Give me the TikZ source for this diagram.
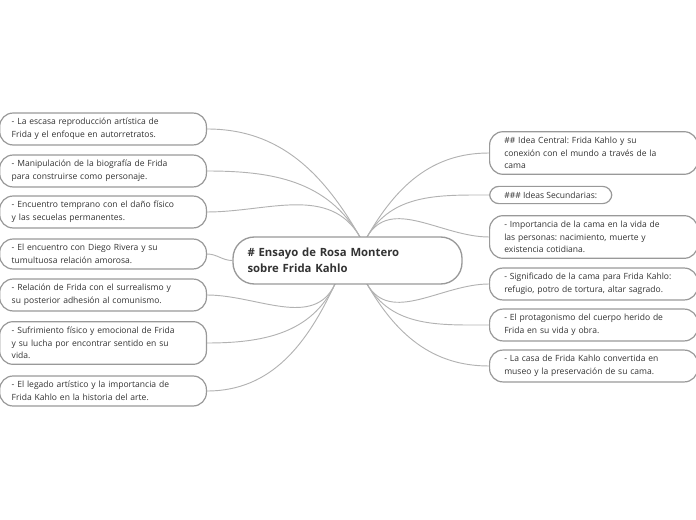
\documentclass[tikz,border=0pt]{standalone}
\usepackage{fontspec}
\setmainfont{Open Sans}
\usetikzlibrary{backgrounds}
\frenchspacing
\begin{document}
\begin{tikzpicture}[x=0.75pt,y=-0.75pt,
  topic/.style={draw=gray!80,line width=0.9pt,rounded corners=10pt,fill=white,
    font=\fontsize{6.4}{9.5}\selectfont,text=black!80,align=left,
    inner ysep=4pt},
  ltopic/.style={topic,anchor=east,text width=137pt,inner xsep=9pt},
  rtopic/.style={topic,anchor=west,text width=134pt,inner xsep=11pt},
  link/.style={draw=gray!60,line width=0.7pt}]

\useasboundingbox (0,0) rectangle (696,520);

\node[draw=gray!80,line width=1pt,rounded corners=16pt,minimum width=229*0.75pt,
  minimum height=47*0.75pt,text width=150pt,align=left,fill=white,
  font=\fontsize{8.5}{12}\selectfont\bfseries,text=black!80] (central) at (347.5,260.5)
  {\# Ensayo de Rosa Montero\\sobre Frida Kahlo};

\coordinate (ctl) at (360,237);
\coordinate (cbl) at (335,284);
\coordinate (ctr) at (367,237);
\coordinate (cbr) at (367,284);

% left side
\node[ltopic] (l1) at (207,129) {- La escasa reproducción artística de\\Frida y el enfoque en autorretratos.};
\node[ltopic] (l2) at (207,171) {- Manipulación de la biografía de Frida\\para construirse como personaje.};
\node[ltopic] (l3) at (207,212) {- Encuentro temprano con el daño físico\\y las secuelas permanentes.};
\node[ltopic] (l4) at (207,254) {- El encuentro con Diego Rivera y su\\tumultuosa relación amorosa.};
\node[ltopic] (l5) at (207,295) {- Relación de Frida con el surrealismo y\\su posterior adhesión al comunismo.};
\node[ltopic] (l6) at (207,343) {- Sufrimiento físico y emocional de Frida\\y su lucha por encontrar sentido en su\\vida.};
\node[ltopic] (l7) at (207,391) {- El legado artístico y la importancia de\\Frida Kahlo en la historia del arte.};

% right side
\node[rtopic] (r1) at (489,153) {\#\# Idea Central: Frida Kahlo y su\\conexión con el mundo a través de la\\cama};
\node[topic,anchor=west,inner xsep=11pt,rounded corners=7pt] (r2) at (489,195) {\#\#\# Ideas Secundarias:};
\node[rtopic] (r3) at (489,237) {- Importancia de la cama en la vida de\\las personas: nacimiento, muerte y\\existencia cotidiana.};
\node[rtopic] (r4) at (489,284) {- Significado de la cama para Frida Kahlo:\\refugio, potro de tortura, altar sagrado.};
\node[rtopic] (r5) at (489,325) {- El protagonismo del cuerpo herido de\\Frida en su vida y obra.};
\node[rtopic] (r6) at (489,366) {- La casa de Frida Kahlo convertida en\\museo y la preservación de su cama.};

\begin{scope}[on background layer]
\foreach \n in {l1,l2,l3}
  \draw[link] (\n.east) to[out=0,in=120] (ctl);
\draw[link] (l4.east) to[out=0,in=180] (central.west);
\foreach \n in {l5,l6,l7}
  \draw[link] (\n.east) to[out=0,in=-115] (cbl);
\foreach \n in {r1,r2,r3}
  \draw[link] (\n.west) to[out=180,in=60] (ctr);
\foreach \n in {r4,r5,r6}
  \draw[link] (\n.west) to[out=180,in=-60] (cbr);
\end{scope}
\end{tikzpicture}
\end{document}
